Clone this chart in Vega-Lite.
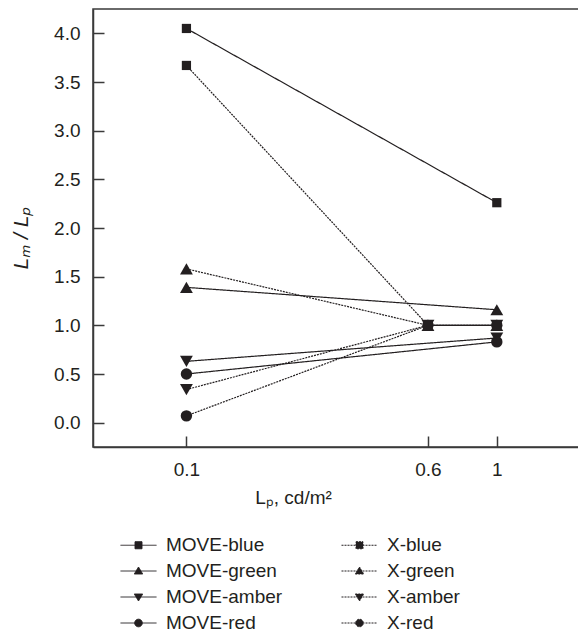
{
  "$schema": "https://vega.github.io/schema/vega-lite/v6.json",
  "width": 486,
  "height": 438,
  "autosize": {"type": "none"},
  "padding": {"left": 93, "top": 9, "right": 0, "bottom": 187},
  "background": "white",
  "config": {
    "font": "Liberation Sans",
    "view": {"stroke": "#3a3a3a", "strokeWidth": 1.5},
    "axis": {
      "grid": false,
      "domainColor": "#3a3a3a",
      "domainWidth": 1.5,
      "tickColor": "#3a3a3a",
      "tickWidth": 1.5,
      "tickSize": -11,
      "labelFont": "Liberation Sans",
      "labelFontSize": 19,
      "labelColor": "#231f20",
      "titleFont": "Liberation Sans",
      "titleFontSize": 19,
      "titleColor": "#231f20",
      "titleFontWeight": "normal"
    }
  },
  "data": {
    "values": [
      {"series": "MOVE-blue", "colour": "blue", "lp": 0.1, "ratio": 4.05},
      {"series": "MOVE-blue", "colour": "blue", "lp": 1, "ratio": 2.26},
      {"series": "MOVE-green", "colour": "green", "lp": 0.1, "ratio": 1.39},
      {"series": "MOVE-green", "colour": "green", "lp": 1, "ratio": 1.16},
      {"series": "MOVE-amber", "colour": "amber", "lp": 0.1, "ratio": 0.63},
      {"series": "MOVE-amber", "colour": "amber", "lp": 1, "ratio": 0.87},
      {"series": "MOVE-red", "colour": "red", "lp": 0.1, "ratio": 0.5},
      {"series": "MOVE-red", "colour": "red", "lp": 1, "ratio": 0.83},
      {"series": "X-blue", "colour": "blue", "lp": 0.1, "ratio": 3.67},
      {"series": "X-blue", "colour": "blue", "lp": 0.6, "ratio": 1.0},
      {"series": "X-blue", "colour": "blue", "lp": 1, "ratio": 1.0},
      {"series": "X-green", "colour": "green", "lp": 0.1, "ratio": 1.58},
      {"series": "X-green", "colour": "green", "lp": 0.6, "ratio": 1.0},
      {"series": "X-green", "colour": "green", "lp": 1, "ratio": 1.0},
      {"series": "X-amber", "colour": "amber", "lp": 0.1, "ratio": 0.34},
      {"series": "X-amber", "colour": "amber", "lp": 0.6, "ratio": 1.0},
      {"series": "X-amber", "colour": "amber", "lp": 1, "ratio": 1.0},
      {"series": "X-red", "colour": "red", "lp": 0.1, "ratio": 0.07},
      {"series": "X-red", "colour": "red", "lp": 0.6, "ratio": 1.0},
      {"series": "X-red", "colour": "red", "lp": 1, "ratio": 1.0}
    ]
  },
  "encoding": {
    "x": {
      "field": "lp",
      "type": "quantitative",
      "scale": {"type": "log", "domain": [0.05, 1.84], "nice": false},
      "axis": {
        "values": [0.1, 0.6, 1],
        "labelExpr": "datum.value + ''",
        "labelPadding": 24,
        "title": "Lₚ, cd/m²",
        "titleX": 200,
        "titleY": 50,
        "titleBaseline": "middle",
        "titleAlign": "center"
      }
    },
    "y": {
      "field": "ratio",
      "type": "quantitative",
      "scale": {"domain": [-0.25, 4.25], "nice": false, "zero": false},
      "axis": {
        "values": [0, 0.5, 1, 1.5, 2, 2.5, 3, 3.5, 4],
        "format": ".1f",
        "labelPadding": 24,
        "title": "Lₘ / Lₚ",
        "titleFontStyle": "italic",
        "titleFontSize": 21,
        "titleX": -72,
        "titleY": 229,
        "titleAngle": -90,
        "titleBaseline": "middle",
        "titleAlign": "center"
      }
    }
  },
  "layer": [
    {
      "mark": {"type": "line", "color": "#231f20", "strokeWidth": 1.2},
      "encoding": {
        "strokeDash": {
          "field": "series",
          "type": "nominal",
          "scale": {
            "domain": ["MOVE-blue", "MOVE-green", "MOVE-amber", "MOVE-red", "X-blue", "X-green", "X-amber", "X-red"],
            "range": [[1, 0], [1, 0], [1, 0], [1, 0], [2, 1], [2, 1], [2, 1], [2, 1]]
          },
          "legend": {
            "orient": "none",
            "legendX": 27,
            "legendY": 525.5,
            "columns": 2,
            "title": null,
            "padding": 0,
            "symbolSize": 400,
            "symbolStrokeWidth": 1,
            "symbolStrokeColor": "#231f20",
            "symbolFillColor": "#231f20",
            "symbolOffset": 8,
            "labelOffset": 17,
            "labelFont": "Liberation Sans",
            "labelFontSize": 19,
            "labelColor": "#231f20",
            "rowPadding": 5,
            "columnPadding": 56,
            "encode": {
              "symbols": {
                "update": {
                  "shape": {"signal": "indexof(datum.value, 'blue') >= 0 ? 'M-1.8,0H1.8M-0.35,-0.35H0.35V0.35H-0.35Z' : indexof(datum.value, 'green') >= 0 ? 'M-1.8,0H1.8M-0.42,0.3L0.42,0.3L0,-0.4Z' : indexof(datum.value, 'amber') >= 0 ? 'M-1.8,0H1.8M-0.42,-0.3L0.42,-0.3L0,0.4Z' : 'M-1.8,0H1.8M-0.38,0A0.38,0.38 0 1,0 0.38,0A0.38,0.38 0 1,0 -0.38,0Z'"},
                  "fill": {"value": "#231f20"},
                  "stroke": {"value": "#231f20"},
                  "opacity": {"value": 1}
                }
              }
            }
          }
        }
      }
    },
    {
      "mark": {"type": "point", "filled": true, "opacity": 1, "color": "#231f20"},
      "encoding": {
        "shape": {
          "field": "colour",
          "type": "nominal",
          "scale": {
            "domain": ["blue", "green", "amber", "red"],
            "range": ["square", "triangle-up", "triangle-down", "circle"]
          },
          "legend": null
        },
        "size": {
          "field": "colour",
          "type": "nominal",
          "scale": {
            "type": "ordinal",
            "domain": ["blue", "green", "amber", "red"],
            "range": [85, 165, 165, 130]
          },
          "legend": null
        }
      }
    }
  ]
}
